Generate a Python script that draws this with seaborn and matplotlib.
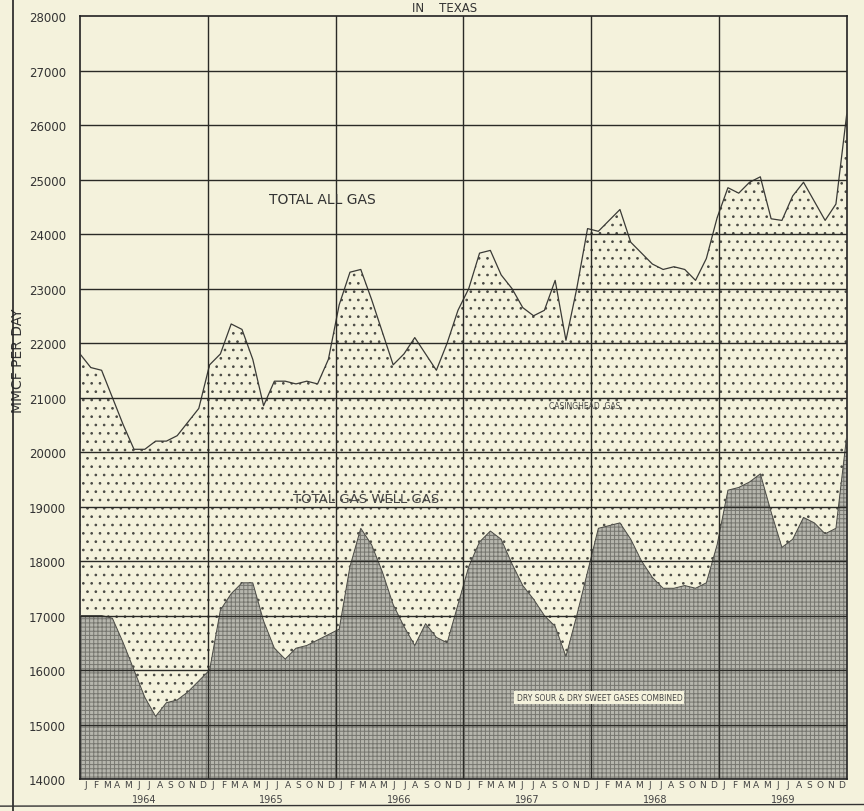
"""Texas gas production 1964-1969 - stacked area chart"""
import numpy as np
import matplotlib
matplotlib.use('Agg')
import matplotlib.pyplot as plt
import seaborn as sns

PAPER = '#f4f2dc'

years = ['1964', '1965', '1966', '1967', '1968', '1969']
month_letters = ['J', 'F', 'M', 'A', 'M', 'J', 'J', 'A', 'S', 'O', 'N', 'D']

# MMCF per day, monthly Jan 1964 .. Dec 1969
total_all_gas = [
    21800, 21550, 21500, 21000, 20500, 20050, 20050, 20200, 20200, 20300, 20550, 20800,
    21600, 21800, 22350, 22250, 21700, 20850, 21300, 21300, 21250, 21300, 21250, 21700,
    22700, 23300, 23350, 22800, 22200, 21600, 21800, 22100, 21800, 21500, 22000, 22600,
    23000, 23650, 23700, 23250, 23000, 22650, 22500, 22600, 23150, 22050, 23000, 24100,
    24050, 24250, 24450, 23850, 23650, 23450, 23350, 23400, 23350, 23150, 23550, 24300,
    24850, 24750, 24950, 25050, 24280, 24250, 24700, 24950, 24600, 24250, 24550, 26200,
]
dry_gas = [
    17000, 17000, 17000, 16950, 16500, 16000, 15500, 15150, 15400, 15450, 15600, 15800,
    16000, 17100, 17400, 17600, 17600, 16900, 16400, 16200, 16400, 16450, 16550, 16650,
    16750, 17900, 18600, 18300, 17800, 17200, 16800, 16450, 16850, 16600, 16500, 17200,
    17900, 18350, 18550, 18400, 17950, 17550, 17300, 17000, 16800, 16250, 17000, 17800,
    18600, 18650, 18700, 18400, 18000, 17700, 17500, 17500, 17550, 17500, 17600, 18300,
    19300, 19350, 19450, 19600, 18900, 18250, 18400, 18800, 18700, 18500, 18600, 20300,
]

months = np.arange(len(total_all_gas))
base = 14000
span = len(months) - 1          # first point on left edge, last on right edge
band = span / len(months)       # width of one month slot on the axis

sns.set_style('white')
plt.rcParams['font.family'] = ['DejaVu Sans']
plt.rcParams['hatch.linewidth'] = 0.7

fig = plt.figure(figsize=(8.64, 8.12), dpi=100, facecolor=PAPER)
ax = fig.add_axes([0.0926, 0.0394, 0.8874, 0.9396])
ax.set_facecolor(PAPER)

# dotted area (gas well + casinghead) and dense grey area (dry gases)
ax.fill_between(months, dry_gas, total_all_gas, facecolor=PAPER,
                edgecolor='#4a4a44', hatch='..', linewidth=0, zorder=1)
ax.fill_between(months, base, dry_gas, facecolor='#b6b6ad',
                edgecolor='#76766f', hatch='++++', linewidth=0, zorder=1)

sns.lineplot(x=months, y=total_all_gas, ax=ax, color='#3a3a36', linewidth=0.9, zorder=3)
sns.lineplot(x=months, y=dry_gas, ax=ax, color='#4a4a45', linewidth=0.7, zorder=3)

# grid drawn on top of the fills
for v in range(15000, 28000, 1000):
    ax.axhline(v, color='#2a2a26', linewidth=1.0, zorder=4)
for k in range(1, len(years)):
    ax.axvline(12 * k * band, color='#2a2a26', linewidth=1.0, zorder=4)

ax.set_xlim(0, span)
ax.set_ylim(14000, 28000)
ax.set_yticks(range(14000, 28001, 1000))
ax.set_yticklabels([str(v) for v in range(14000, 28001, 1000)], fontsize=8.5, color='#333')
ax.tick_params(axis='y', length=0, pad=10)
ax.set_xticks((months + 0.5) * band)
ax.set_xticklabels(month_letters * len(years), fontsize=6.5, color='#444')
ax.tick_params(axis='x', length=0, pad=1)
for i, yr in enumerate(years):
    ax.text((12 * i + 6) * band, -0.026, yr, transform=ax.get_xaxis_transform(),
            ha='center', va='center', fontsize=7, color='#444')

for s in ax.spines.values():
    s.set_color('#222')
    s.set_linewidth(1.2)
    s.set_visible(True)

ax.set_ylabel('MMCF PER DAY', fontsize=10, color='#333', labelpad=8)
ax.yaxis.set_label_coords(-0.072, 0.55)

ax.text(22.4, 24650, 'TOTAL ALL GAS', fontsize=10, color='#333', ha='center', va='center', zorder=5)
ax.text(46.7, 20850, 'CASINGHEAD  GAS', fontsize=5.5, color='#444', ha='center', va='center', zorder=5)
ax.text(26.5, 19150, 'TOTAL GAS WELL GAS', fontsize=9.5, color='#444', ha='center', va='center', zorder=5)
ax.text(48.1, 15500, 'DRY SOUR & DRY SWEET GASES COMBINED', fontsize=5.5, color='#444',
        ha='center', va='center', zorder=5,
        bbox=dict(facecolor=PAPER, edgecolor='none', pad=1.5))

fig.text(0.515, 0.998, 'IN    TEXAS', fontsize=8.5, color='#333', ha='center', va='top')

# page border of the scanned sheet
fig.add_artist(plt.Line2D([0.015, 0.015], [0.0, 1.0], color='#222', linewidth=1.2))
fig.add_artist(plt.Line2D([0.0, 1.0], [0.006, 0.008], color='#333', linewidth=1.0))

fig.savefig('out.png', dpi=100, facecolor=PAPER)
plt.close(fig)
